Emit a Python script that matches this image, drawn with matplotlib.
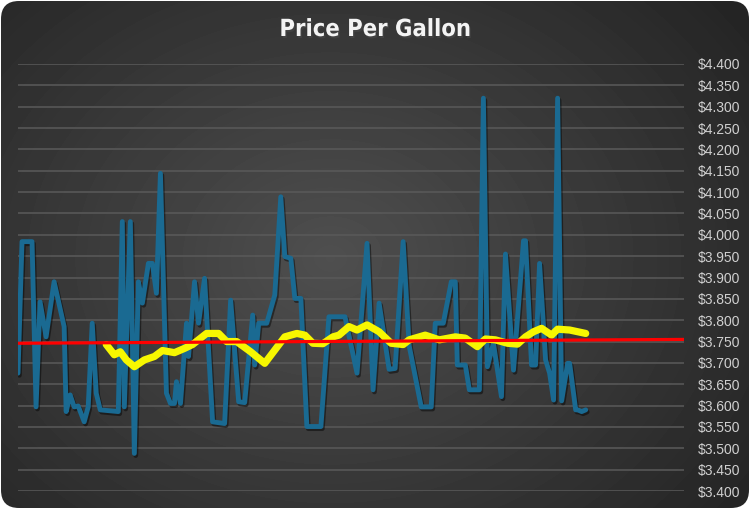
import numpy as np
import matplotlib.pyplot as plt
import matplotlib.patheffects as pe
from matplotlib.patches import FancyBboxPatch
from matplotlib.ticker import FuncFormatter, MultipleLocator

# price per gallon (t = sample index)
price_t = [0, 2, 7, 9, 11, 14, 18, 23, 24, 26, 28, 30, 33, 35, 37, 39, 41, 50, 52, 53,
           56, 58, 60, 62, 65, 67, 69, 71, 74, 76, 78, 79, 81, 84, 85, 88, 90, 93, 97, 103,
           106, 110, 113, 117, 118, 120, 124, 128, 131, 133, 136, 138, 141, 144, 151, 155, 163, 169, 174, 177,
           180, 185, 188, 192, 195, 201, 206, 208, 212, 216, 218, 219, 223, 225, 230, 232, 234, 237, 241, 243,
           247, 252, 253, 256, 258, 260, 263, 265, 267, 269, 271, 274, 275, 278, 279, 281, 283]
price = [3.676, 3.984, 3.984, 3.597, 3.843, 3.761, 3.890, 3.785, 3.586, 3.625, 3.597, 3.599, 3.562, 3.597, 3.793, 3.629, 3.590, 3.586, 4.031, 3.597,
         4.031, 3.488, 3.890, 3.840, 3.933, 3.933, 3.863, 4.144, 3.629, 3.605, 3.605, 3.656, 3.605, 3.793, 3.715, 3.890, 3.793, 3.898, 3.562, 3.558,
         3.847, 3.609, 3.607, 3.812, 3.695, 3.793, 3.793, 3.859, 4.089, 3.949, 3.945, 3.851, 3.851, 3.551, 3.551, 3.808, 3.808, 3.676, 3.980, 3.637,
         3.840, 3.685, 3.687, 3.984, 3.740, 3.597, 3.597, 3.793, 3.793, 3.890, 3.890, 3.695, 3.695, 3.637, 3.637, 4.320, 3.691, 3.746, 3.621, 3.955,
         3.683, 3.986, 3.986, 3.695, 3.695, 3.933, 3.707, 3.676, 3.613, 4.320, 3.611, 3.699, 3.699, 3.590, 3.590, 3.586, 3.590]

# moving average (yellow)
avg_t = [44, 48, 51, 54, 58, 63, 68, 72, 78, 83, 87, 94, 100, 104, 109, 116, 123, 128, 133, 139,
         143, 147, 152, 157, 160, 165, 169, 174, 180, 186, 192, 195, 203, 210, 218, 223, 229, 233, 238, 244,
         249, 253, 257, 261, 266, 269, 275, 283]
avg = [3.743, 3.719, 3.726, 3.707, 3.691, 3.707, 3.715, 3.729, 3.724, 3.734, 3.743, 3.769, 3.769, 3.750, 3.750, 3.726, 3.699, 3.730, 3.761, 3.769,
       3.765, 3.746, 3.745, 3.761, 3.765, 3.785, 3.777, 3.789, 3.773, 3.746, 3.743, 3.754, 3.765, 3.754, 3.761, 3.758, 3.738, 3.756, 3.754, 3.746,
       3.744, 3.761, 3.773, 3.781, 3.765, 3.779, 3.777, 3.769]

# linear trend (red)
trend_t = [0, 332]
trend = [3.746, 3.755]

x_max = 332
y_min, y_max = 3.40, 4.40

W, H = 750, 509
fig = plt.figure(figsize=(W / 100, H / 100), dpi=100)
fig.patch.set_facecolor('white')

# rounded dark background with a radial gradient
bg = fig.add_axes([0, 0, 1, 1], zorder=-10)
bg.set_xlim(0, W)
bg.set_ylim(0, H)
bg.axis('off')
yy, xx = np.mgrid[0:H, 0:W]
r = np.sqrt(((xx - 330) / 520.0) ** 2 + ((yy - 250) / 420.0) ** 2)
shade = np.clip(0.31 - 0.17 * r, 0.14, 0.31)
img = bg.imshow(shade, cmap='gray', vmin=0, vmax=1, extent=[0, W, 0, H],
                origin='lower', aspect='auto', interpolation='bilinear')
box = FancyBboxPatch((1, 1), W - 2, H - 2, boxstyle='round,pad=0,rounding_size=18',
                     transform=bg.transData, facecolor='none', edgecolor='none')
bg.add_patch(box)
img.set_clip_path(box)

ax = fig.add_axes([18 / W, 18 / H, 666 / W, 427 / H])
ax.set_facecolor('none')
ax.set_xlim(0, x_max)
ax.set_ylim(y_min, y_max)

ax.yaxis.set_major_locator(MultipleLocator(0.05))
ax.yaxis.set_major_formatter(FuncFormatter(lambda v, p: f'${v:.3f}'))
ax.yaxis.tick_right()
ax.tick_params(axis='y', length=0, pad=10, labelsize=10, labelcolor='#d0d0d0')
for lab in ax.get_yticklabels():
    lab.set_family('Liberation Sans')
ax.set_xticks([])
ax.grid(axis='y', color='#5a5a5a', linewidth=1.1)
for s in ax.spines.values():
    s.set_visible(False)

shadow = [pe.SimpleLineShadow(offset=(1, -1.5), shadow_color='black', alpha=0.45), pe.Normal()]
ax.plot(price_t, price, color='#1a6a92', linewidth=3.5, solid_joinstyle='round',
        solid_capstyle='round', path_effects=shadow, zorder=3)
ax.plot(avg_t, avg, color='#f7f700', linewidth=5.2, solid_joinstyle='round',
        solid_capstyle='round', zorder=4)
ax.plot(trend_t, trend, color='#ff0000', linewidth=2.3, zorder=5)

fig.text(0.5, 1 - 29 / H, 'Price Per Gallon', ha='center', va='center', color='#f4f4f4',
         fontsize=17, fontweight='bold', family='DejaVu Sans', fontstretch='condensed',
         path_effects=[pe.withSimplePatchShadow(offset=(1, -1.5), alpha=0.6)])

fig.savefig('out.png', dpi=100, facecolor=fig.get_facecolor())
